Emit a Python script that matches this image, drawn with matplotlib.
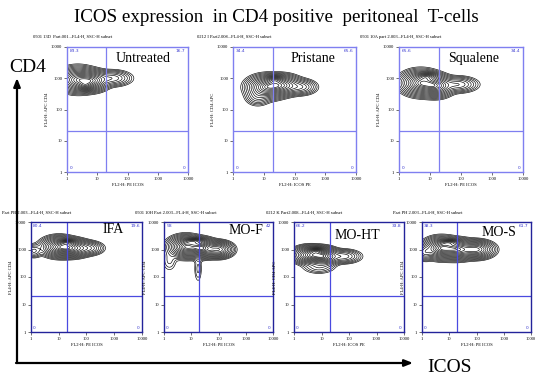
import numpy as np
import matplotlib
matplotlib.use("Agg")
import matplotlib.pyplot as plt

W, H = 535, 378

title = "ICOS expression  in CD4 positive  peritoneal  T-cells"
panel_names = ["Untreated", "Pristane", "Squalene", "IFA", "MO-F", "MO-HT", "MO-S"]
ul_pct = ["83.3", "34.4", "65.6", "80.4", "58", "66.2", "38.3"]
ur_pct = ["16.7", "65.6", "34.4", "19.6", "42", "33.8", "61.7"]
ll_pct = ["0", "0", "0", "0", "0", "0", "0"]
lr_pct = ["0", "0", "0", "0", "0", "0", "0"]
subtitles = [
    "0501 13D  Part.001...FL4-H, SSC-H subset",
    "0212 I Part2.008...FL4-H, SSC-H subset",
    "0501 10A part 2.003...FL4-H, SSC-H subset",
    "Part PB 2.003...FL4-H, SSC-H subset",
    "0501 10H Part 2.003...FL4-H, SSC-H subset",
    "0212 K Part2.008...FL4-H, SSC-H subset",
    "Part PH 2.003...FL4-H, SSC-H subset",
]
xlabels = ["FL2-H: PE ICOS", "FL2-H: ICOS PE", "FL2-H: PE ICOS", "FL2-H: PE ICOS",
           "FL2-H: PE ICOS", "FL2-H: ICOS PE", "FL2-H: PE ICOS"]
ylabels = ["FL4-H: APC CD4", "FL4-H: CD4 APC", "FL4-H: APC CD4", "FL4-H: APC CD4",
           "FL4-H: APC CD4", "FL4-H: CD4 APC", "FL4-H: APC CD4"]
tick_values = [1, 10, 100, 1000, 10000]
tick_labels = ["1", "10", "100", "1000", "10000"]
quadrant_x = 20
quadrant_y = 20

# population clusters: (log10 ICOS, log10 CD4, spread x, spread y, weight)
untreated_pops = [(0.35, 2.95, 0.30, 0.18, 1.0), (0.85, 2.92, 0.25, 0.15, 0.8), (1.5, 3.00, 0.30, 0.12, 0.3),
                  (0.6, 2.75, 0.15, 0.08, 0.35)]
pristane_pops = [(1.1, 2.72, 0.30, 0.17, 1.0), (1.6, 2.78, 0.28, 0.15, 0.8), (2.2, 2.72, 0.25, 0.12, 0.3),
                 (0.8, 2.40, 0.20, 0.14, 0.15), (1.35, 2.95, 0.15, 0.07, 0.4)]
squalene_pops = [(0.7, 2.85, 0.30, 0.18, 1.0), (1.2, 2.75, 0.25, 0.16, 0.8), (1.9, 2.80, 0.30, 0.12, 0.3),
                 (0.9, 3.05, 0.18, 0.07, 0.4)]
ifa_pops = [(1.0, 3.10, 0.30, 0.17, 1.0), (1.5, 3.05, 0.30, 0.15, 0.9), (2.1, 3.05, 0.25, 0.12, 0.3),
            (0.1, 2.95, 0.15, 0.12, 0.2), (1.3, 3.25, 0.15, 0.06, 0.4)]
mof_pops = [(0.8, 3.10, 0.30, 0.18, 1.0), (1.4, 3.05, 0.25, 0.16, 0.9), (2.0, 3.00, 0.25, 0.14, 0.7),
            (1.25, 2.30, 0.08, 0.28, 0.05), (0.2, 2.60, 0.15, 0.22, 0.05), (1.1, 3.3, 0.2, 0.06, 0.35)]
moht_pops = [(0.6, 2.80, 0.30, 0.15, 1.0), (1.1, 2.75, 0.25, 0.15, 0.9), (1.8, 2.75, 0.30, 0.12, 0.3),
             (0.9, 2.35, 0.30, 0.12, 0.1), (0.8, 2.95, 0.15, 0.06, 0.35)]
mos_pops = [(0.7, 3.05, 0.30, 0.18, 1.0), (1.3, 3.00, 0.30, 0.17, 0.9), (2.0, 3.00, 0.30, 0.15, 0.8),
            (0.1, 2.90, 0.15, 0.14, 0.3), (1.0, 3.25, 0.2, 0.06, 0.35)]
all_pops = [untreated_pops, pristane_pops, squalene_pops, ifa_pops, mof_pops, moht_pops, mos_pops]

# panel boxes in pixels (x0, y0, x1, y1)
boxes = [(67, 47, 188, 172), (233, 47, 356, 172), (399, 47, 523, 172),
         (31, 222, 142, 332), (164, 222, 273, 332), (294, 222, 404, 332), (422, 222, 531, 332)]
name_pos = [(0.63, 0.91), (0.65, 0.91), (0.6, 0.91), (0.74, 0.93), (0.75, 0.92), (0.58, 0.88), (0.71, 0.9)]
sub_pos = [(33, 37), (197, 37), (360, 37), (2, 213), (135, 213), (266, 213), (393, 213)]

fig = plt.figure(figsize=(W / 100, H / 100), dpi=100)
serif = "Liberation Serif"

# overlay for arrows and big text
ov = fig.add_axes([0, 0, 1, 1])
ov.set_xlim(0, W)
ov.set_ylim(H, 0)
ov.axis("off")
ov.annotate("", xy=(17, 78), xytext=(17, 363),
            arrowprops=dict(arrowstyle="-|>,head_length=0.5,head_width=0.2", lw=1.6, color="black",
                            shrinkA=0, shrinkB=0))
ov.annotate("", xy=(413, 363), xytext=(16, 363),
            arrowprops=dict(arrowstyle="-|>,head_length=0.5,head_width=0.2", lw=1.6, color="black",
                            shrinkA=0, shrinkB=0))
ov.text(28, 68, "CD4", fontsize=14, family=serif, ha="center", va="center")
ov.text(450, 368, "ICOS", fontsize=14, family=serif, ha="center", va="center")
ov.text(276, 17, title, fontsize=13.7, family=serif, ha="center", va="center")
for i in range(7):
    ov.text(sub_pos[i][0], sub_pos[i][1], subtitles[i], fontsize=3.3, family=serif, ha="left", va="center")

gx = np.linspace(0, 4, 280)
gy = np.linspace(0, 4, 280)
GX, GY = np.meshgrid(gx, gy)
radii = np.linspace(0.35, 2.9, 15)
levels = np.sort(np.exp(-radii ** 2 / 2))

for i in range(7):
    x0, y0, x1, y1 = boxes[i]
    ax = fig.add_axes([x0 / W, 1 - y1 / H, (x1 - x0) / W, (y1 - y0) / H])
    top = i < 3
    frame_col = "#7f7ff0" if top else "#23239a"
    quad_col = "#7f7ff0" if top else "#4a4ae0"
    Z = np.zeros_like(GX)
    for (mx, my, sx, sy, w) in all_pops[i]:
        Z += w * np.exp(-0.5 * (((GX - mx) / sx) ** 2 + ((GY - my) / sy) ** 2))
    Z /= Z.max()
    ax.contour(10 ** GX, 10 ** GY, Z, levels=levels, colors="black", linewidths=0.45)
    ax.set_xscale("log")
    ax.set_yscale("log")
    ax.set_xlim(1, 10000)
    ax.set_ylim(1, 10000)
    ax.axvline(quadrant_x, color=quad_col, lw=0.9)
    ax.axhline(quadrant_y, color=quad_col, lw=0.9)
    for s in ax.spines.values():
        s.set_color(frame_col)
        s.set_linewidth(1.0)
    ax.set_xticks(tick_values)
    ax.set_xticklabels(tick_labels, family=serif, fontsize=3.3)
    ax.set_yticks(tick_values)
    ax.set_yticklabels(tick_labels, family=serif, fontsize=3.3)
    ax.tick_params(which="major", length=2, width=0.4, pad=1.5, color="black")
    ax.tick_params(which="minor", length=1, width=0.3, color="black")
    ax.set_xlabel(xlabels[i], family=serif, fontsize=3.3, labelpad=1.5)
    ax.set_ylabel(ylabels[i], family=serif, fontsize=3.3, labelpad=1)
    ax.text(0.02, 0.985, ul_pct[i], transform=ax.transAxes, fontsize=3.2, color="#3b3bd0", va="top", ha="left")
    ax.text(0.98, 0.985, ur_pct[i], transform=ax.transAxes, fontsize=3.2, color="#3b3bd0", va="top", ha="right")
    ax.text(0.02, 0.015, ll_pct[i], transform=ax.transAxes, fontsize=3.2, color="#3b3bd0", va="bottom", ha="left")
    ax.text(0.98, 0.015, lr_pct[i], transform=ax.transAxes, fontsize=3.2, color="#3b3bd0", va="bottom", ha="right")
    nx, ny = name_pos[i]
    ax.text(nx, ny, panel_names[i], transform=ax.transAxes, fontsize=10, family=serif, ha="center", va="center")

fig.savefig("out.png", dpi=100)
